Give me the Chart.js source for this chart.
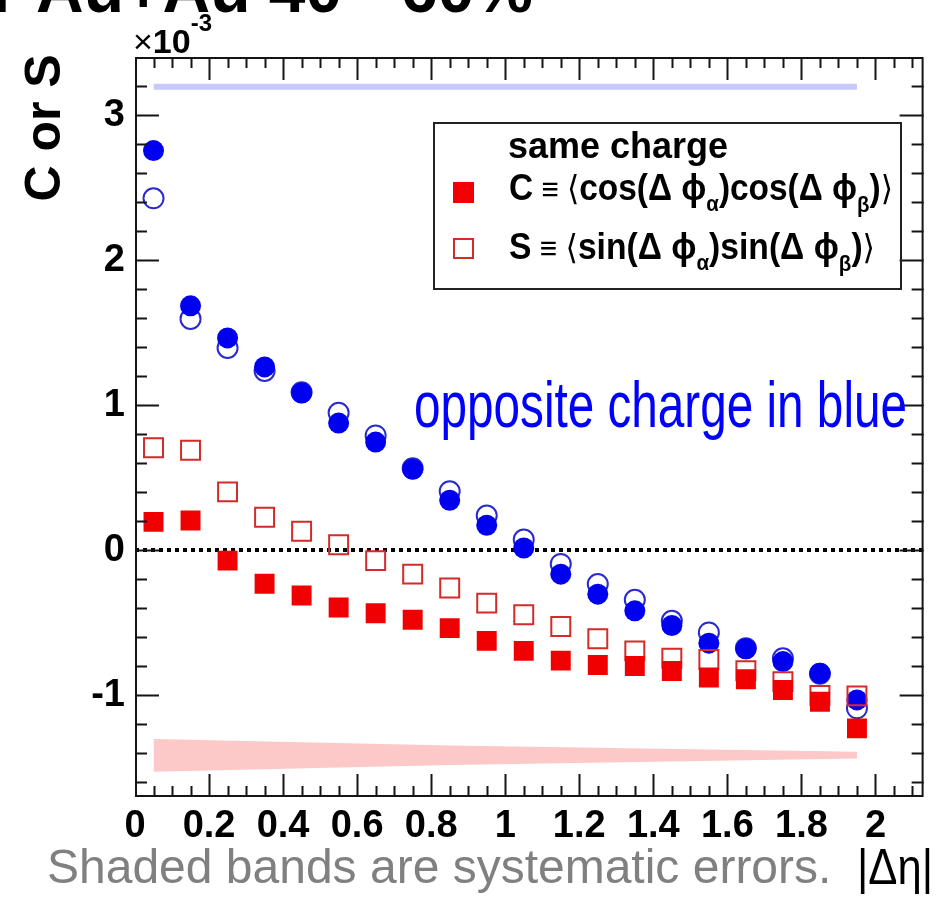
<!DOCTYPE html>
<html>
<head>
<meta charset="utf-8">
<script src="https://cdn.jsdelivr.net/npm/chart.js@4.4.1/dist/chart.umd.min.js"></script>
<style>
  html, body { margin: 0; padding: 0; background: #fff; }
  canvas { display: block; }
</style>
</head>
<body>
<canvas id="chart" width="939" height="899"></canvas>
<script>
// |delta eta| bin centres
const ETA_BINS = [0.05, 0.15, 0.25, 0.35, 0.45, 0.55, 0.65, 0.75, 0.85, 0.95,
                  1.05, 1.15, 1.25, 1.35, 1.45, 1.55, 1.65, 1.75, 1.85, 1.95];

// values in units of 1e-3
const OPP_C = [2.755, 1.685, 1.464, 1.264, 1.084, 0.877, 0.746, 0.559, 0.345, 0.173,
               0.016, -0.164, -0.302, -0.417, -0.518, -0.640, -0.679, -0.767, -0.847, -1.031];
const OPP_S = [2.426, 1.595, 1.395, 1.236, 1.090, 0.948, 0.792, 0.565, 0.407, 0.240,
               0.074, -0.094, -0.232, -0.341, -0.486, -0.566, -0.674, -0.744, -0.850, -1.089];
const SAME_C = [0.196, 0.205, -0.071, -0.230, -0.311, -0.394, -0.433, -0.479, -0.536, -0.624,
                -0.693, -0.760, -0.790, -0.797, -0.831, -0.877, -0.889, -0.962, -1.043, -1.227];
const SAME_S = [0.707, 0.690, 0.403, 0.228, 0.131, 0.039, -0.071, -0.164, -0.260, -0.364,
                -0.444, -0.525, -0.610, -0.693, -0.744, -0.753, -0.830, -0.905, -1.000, -1.003];

// systematic bands
const BLUE_BAND_X = [0.05, 1.95];
const BLUE_BAND_HI = [3.215, 3.215];
const BLUE_BAND_LO = [3.175, 3.175];
const RED_BAND_X = [0.05, 0.85, 1.95];
const RED_BAND_HI = [-1.300, -1.345, -1.388];
const RED_BAND_LO = [-1.526, -1.480, -1.434];

const X_TICKS = [0, 0.2, 0.4, 0.6, 0.8, 1, 1.2, 1.4, 1.6, 1.8, 2];
const Y_TICKS = [-1, 0, 1, 2, 3];

const FONT = "'Liberation Sans', Arial, Helvetica, sans-serif";

function points(xs, ys) {
    return xs.map(function (x, i) {
        return { x: x, y: ys[i] };
    });
}

// draw a list of text runs on one baseline, optionally squeezed to a width
function drawRuns(ctx, runs, x, baseline, targetWidth) {
    let total = 0;
    runs.forEach(function (r) {
        ctx.font = r.font;
        r.w = ctx.measureText(r.text).width;
        total += r.w;
    });
    const sx = targetWidth ? targetWidth / total : 1;
    ctx.save();
    ctx.translate(x, baseline);
    ctx.scale(sx, 1);
    ctx.textAlign = 'left';
    ctx.textBaseline = 'alphabetic';
    let cx = 0;
    runs.forEach(function (r) {
        ctx.font = r.font;
        ctx.fillText(r.text, cx, r.dy || 0);
        cx += r.w;
    });
    ctx.restore();
}

const zeroLine = {
    id: 'zeroLine',
    beforeDatasetsDraw: function (chart) {
        const ctx = chart.ctx;
        const area = chart.chartArea;
        const y = Math.round(chart.scales.y.getPixelForValue(0));
        ctx.save();
        ctx.strokeStyle = '#000';
        ctx.lineWidth = 4;
        ctx.setLineDash([4, 4]);
        ctx.beginPath();
        ctx.moveTo(area.left, y);
        ctx.lineTo(area.right, y);
        ctx.stroke();
        ctx.restore();
    },
};

const framePlugin = {
    id: 'frame',
    afterDatasetsDraw: function (chart) {
        const ctx = chart.ctx;
        const a = chart.chartArea;
        const xs = chart.scales.x;
        const ys = chart.scales.y;

        ctx.save();
        ctx.strokeStyle = '#151515';
        ctx.lineWidth = 2;
        ctx.strokeRect(a.left + 1, a.top + 1, a.right - a.left - 2, a.bottom - a.top - 2);

        // ticks on all four sides, pointing inwards
        ctx.beginPath();
        for (let i = 1; i <= 42; i += 1) {
            const px = Math.round(xs.getPixelForValue(i * 0.05)) + 0.5;
            const len = i % 4 === 0 ? 23 : 11;
            ctx.moveTo(px, a.bottom);
            ctx.lineTo(px, a.bottom - len);
            ctx.moveTo(px, a.top);
            ctx.lineTo(px, a.top + len);
        }
        for (let j = -8; j <= 16; j += 1) {
            const py = Math.round(ys.getPixelForValue(j * 0.2)) + 0.5;
            const len = j % 5 === 0 ? 24 : 12;
            ctx.moveTo(a.left, py);
            ctx.lineTo(a.left + len, py);
            ctx.moveTo(a.right, py);
            ctx.lineTo(a.right - len, py);
        }
        ctx.stroke();
        ctx.restore();
    },
    afterDraw: function (chart) {
        const ctx = chart.ctx;
        ctx.save();
        ctx.fillStyle = '#000';

        // cut-off slide title at the very top
        ctx.font = 'bold 66px ' + FONT;
        ctx.textBaseline = 'alphabetic';
        ctx.fillText('r Au+Au 40 - 60%', -8, 12);

        // exponent
        drawRuns(ctx, [
            { text: '\u00D7', font: '34px ' + FONT },
            { text: '10', font: 'bold 34px ' + FONT },
            { text: '-3', font: 'bold 24px ' + FONT, dy: -22 },
        ], 133, 53);

        // y title
        ctx.save();
        ctx.translate(60, 128);
        ctx.rotate(-Math.PI / 2);
        ctx.font = 'bold 50px ' + FONT;
        ctx.textAlign = 'center';
        ctx.fillText('C or S', 0, 0);
        ctx.restore();

        // legend box
        ctx.strokeStyle = '#222';
        ctx.lineWidth = 2;
        ctx.strokeRect(434, 123, 467, 166);
        ctx.fillStyle = '#f00000';
        ctx.fillRect(453, 182, 21, 21);
        ctx.strokeStyle = '#d42a2a';
        ctx.strokeRect(454, 239, 19, 19);
        ctx.fillStyle = '#000';
        drawRuns(ctx, [{ text: 'same charge', font: 'bold 36px ' + FONT }], 508, 158);
        drawRuns(ctx, [
            { text: 'C', font: 'bold 36px ' + FONT },
            { text: ' \u2261 ', font: '32px ' + FONT },
            { text: '\u27E8', font: '34px DejaVu Sans' },
            { text: 'cos(\u0394 \u03D5', font: 'bold 36px ' + FONT },
            { text: '\u03B1', font: 'bold 22px ' + FONT, dy: 11 },
            { text: ')cos(\u0394 \u03D5', font: 'bold 36px ' + FONT },
            { text: '\u03B2', font: 'bold 22px ' + FONT, dy: 12 },
            { text: ')', font: 'bold 36px ' + FONT },
            { text: '\u27E9', font: '34px DejaVu Sans' },
        ], 509, 200, 384);
        drawRuns(ctx, [
            { text: 'S', font: 'bold 36px ' + FONT },
            { text: ' \u2261 ', font: '32px ' + FONT },
            { text: '\u27E8', font: '34px DejaVu Sans' },
            { text: 'sin(\u0394 \u03D5', font: 'bold 36px ' + FONT },
            { text: '\u03B1', font: 'bold 22px ' + FONT, dy: 11 },
            { text: ')sin(\u0394 \u03D5', font: 'bold 36px ' + FONT },
            { text: '\u03B2', font: 'bold 22px ' + FONT, dy: 12 },
            { text: ')', font: 'bold 36px ' + FONT },
            { text: '\u27E9', font: '34px DejaVu Sans' },
        ], 509, 259, 366);

        // annotations
        ctx.fillStyle = '#0000ff';
        drawRuns(ctx, [{ text: 'opposite charge in blue', font: '64px ' + FONT }], 414, 427, 493);
        ctx.fillStyle = '#808080';
        drawRuns(ctx, [{ text: 'Shaded bands are systematic errors.', font: '48px ' + FONT }], 47, 883);
        ctx.fillStyle = '#000';
        drawRuns(ctx, [{ text: '|\u0394\u03B7|', font: '50px ' + FONT }], 857, 884, 76);
        ctx.restore();
    },
};

const tickFont = { family: FONT, weight: 'bold', size: 38 };

new Chart(document.getElementById('chart'), {
    type: 'scatter',
    data: {
        datasets: [
            {
                label: 'same C',
                data: points(ETA_BINS, SAME_C),
                pointStyle: 'rect',
                pointRadius: 14.1,
                pointHoverRadius: 14.1,
                pointBackgroundColor: '#f00000',
                pointBorderColor: '#f00000',
                pointBorderWidth: 0,
                order: 1,
            },
            {
                label: 'same S',
                data: points(ETA_BINS, SAME_S),
                pointStyle: 'rect',
                pointRadius: 13.4,
                pointHoverRadius: 13.4,
                pointBackgroundColor: 'rgba(255,255,255,0)',
                pointBorderColor: '#d42a2a',
                pointBorderWidth: 2,
                order: 2,
            },
            {
                label: 'opp C',
                data: points(ETA_BINS, OPP_C),
                pointStyle: 'circle',
                pointRadius: 10.5,
                pointHoverRadius: 10.5,
                pointBackgroundColor: '#0000f0',
                pointBorderColor: '#0000f0',
                pointBorderWidth: 0,
                order: 3,
            },
            {
                label: 'opp S',
                data: points(ETA_BINS, OPP_S),
                pointStyle: 'circle',
                pointRadius: 10,
                pointHoverRadius: 10,
                pointBackgroundColor: 'rgba(255,255,255,0)',
                pointBorderColor: '#2a2ad0',
                pointBorderWidth: 2,
                order: 4,
            },
            {
                type: 'line',
                label: 'blue band hi',
                data: points(BLUE_BAND_X, BLUE_BAND_HI),
                borderColor: 'rgba(0,0,0,0)',
                borderWidth: 0,
                pointRadius: 0,
                fill: '+1',
                backgroundColor: '#c8c8fa',
                order: 5,
            },
            {
                type: 'line',
                label: 'blue band lo',
                data: points(BLUE_BAND_X, BLUE_BAND_LO),
                borderColor: 'rgba(0,0,0,0)',
                borderWidth: 0,
                pointRadius: 0,
                fill: false,
                order: 6,
            },
            {
                type: 'line',
                label: 'red band hi',
                data: points(RED_BAND_X, RED_BAND_HI),
                borderColor: 'rgba(0,0,0,0)',
                borderWidth: 0,
                pointRadius: 0,
                fill: '+1',
                backgroundColor: '#fcc8c8',
                order: 7,
            },
            {
                type: 'line',
                label: 'red band lo',
                data: points(RED_BAND_X, RED_BAND_LO),
                borderColor: 'rgba(0,0,0,0)',
                borderWidth: 0,
                pointRadius: 0,
                fill: false,
                order: 8,
            },
        ],
    },
    options: {
        responsive: false,
        animation: false,
        devicePixelRatio: 1,
        layout: { padding: { left: 0, right: 5, top: 57, bottom: 0 } },
        plugins: {
            legend: { display: false },
            tooltip: { enabled: false },
        },
        scales: {
            x: {
                type: 'linear',
                min: 0,
                max: 2.13,
                grid: { display: false, drawTicks: false },
                border: { display: false },
                afterBuildTicks: function (s) {
                    s.ticks = X_TICKS.map(function (v) { return { value: v }; });
                },
                afterFit: function (s) { s.height = 102; },
                ticks: {
                    padding: 7,
                    color: '#000',
                    font: tickFont,
                    maxRotation: 0,
                    autoSkip: false,
                    callback: function (v) { return String(Math.round(v * 10) / 10); },
                },
            },
            y: {
                type: 'linear',
                min: -1.7,
                max: 3.4,
                grid: { display: false, drawTicks: false },
                border: { display: false },
                afterBuildTicks: function (s) {
                    s.ticks = Y_TICKS.map(function (v) { return { value: v }; });
                },
                afterFit: function (s) { s.width = 135; },
                ticks: {
                    padding: 10,
                    color: '#000',
                    font: tickFont,
                    autoSkip: false,
                    callback: function (v) { return String(v); },
                },
            },
        },
    },
    plugins: [zeroLine, framePlugin],
});
</script>
</body>
</html>
